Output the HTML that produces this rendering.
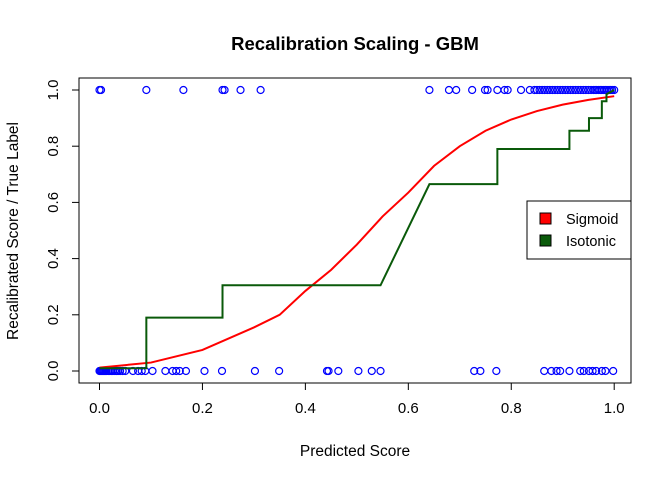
<!DOCTYPE html>
<html><head><meta charset="utf-8"><style>
body{margin:0;background:#fff}
svg{display:block;font-family:"Liberation Sans",Arial,sans-serif}
</style></head><body>
<svg id="chart" width="672" height="480" viewBox="0 0 672 480">
<rect width="672" height="480" fill="#fff"/>
<text x="355" y="50" text-anchor="middle" font-size="18.5" font-weight="bold">Recalibration Scaling - GBM</text>
<rect x="79" y="78" width="552" height="305" fill="none" stroke="#000"/>
<g id="xaxis"></g>
<g id="yaxis"></g>
<text x="355" y="456" text-anchor="middle" font-size="15.5">Predicted Score</text>
<text transform="translate(18,231) rotate(-90)" text-anchor="middle" font-size="15.5">Recalibrated Score / True Label</text>
<g id="points"></g>
<g id="lines"></g>
<g>
<rect x="527" y="201" width="104" height="58" fill="#fff" stroke="#000"/>
<g><rect x="540" y="213" width="11" height="11" fill="#ff0000" stroke="#000"/><text x="566" y="224" font-size="14.5">Sigmoid</text></g>
<g><rect x="540" y="235" width="11" height="11" fill="#0a5a0a" stroke="#000"/><text x="566" y="246" font-size="14.5">Isotonic</text></g>
</g>
</svg>
<script>
const xTicks=[0,0.2,0.4,0.6,0.8,1.0];
const yTicks=[0,0.2,0.4,0.6,0.8,1.0];
const topPts=[0,0.003,0.091,0.163,0.239,0.243,0.274,0.313,0.641,0.679,0.693,0.724,0.749,0.754,0.773,0.787,0.793,0.819,0.836,0.845,0.85,0.855,0.86,0.865,0.87,0.875,0.88,0.885,0.89,0.895,0.9,0.905,0.91,0.915,0.92,0.925,0.93,0.935,0.94,0.945,0.95,0.955,0.96,0.963,0.966,0.97,0.973,0.976,0.98,0.983,0.986,0.99,0.993,0.996,1.0];
const botPts=[0,0.002,0.004,0.006,0.008,0.01,0.012,0.014,0.017,0.02,0.023,0.026,0.03,0.033,0.036,0.04,0.045,0.05,0.065,0.075,0.082,0.089,0.103,0.128,0.142,0.149,0.156,0.168,0.204,0.238,0.302,0.349,0.442,0.445,0.464,0.503,0.529,0.546,0.728,0.74,0.771,0.864,0.878,0.888,0.895,0.913,0.934,0.941,0.951,0.958,0.965,0.976,0.983,0.998];
const sigX=[0,0.1,0.2,0.3,0.35,0.4,0.45,0.5,0.55,0.6,0.65,0.7,0.75,0.8,0.85,0.9,0.95,1.0];
const sigY=[0.012,0.03,0.075,0.155,0.2,0.285,0.36,0.45,0.55,0.635,0.73,0.8,0.855,0.895,0.925,0.948,0.965,0.978];
const isoX=[0,0.091,0.091,0.239,0.239,0.546,0.641,0.773,0.773,0.913,0.913,0.951,0.951,0.976,0.976,0.985,0.985,1.0];
const isoY=[0.01,0.01,0.19,0.19,0.305,0.305,0.665,0.665,0.79,0.79,0.855,0.855,0.9,0.9,0.96,0.96,0.985,1.0];
const NS="http://www.w3.org/2000/svg";
function sx(v){return 99.5+v*514.7;}
function sy(v){return 371-v*281;}
function mk(tag,attrs,parent){const e=document.createElementNS(NS,tag);for(const k in attrs)e.setAttribute(k,attrs[k]);parent.appendChild(e);return e;}
const xa=document.getElementById('xaxis'),ya=document.getElementById('yaxis');
mk('line',{x1:sx(0),x2:sx(1),y1:383,y2:383,stroke:'#000'},xa);
xTicks.forEach(t=>{mk('line',{x1:sx(t),x2:sx(t),y1:383,y2:390,stroke:'#000'},xa);
const tx=mk('text',{x:sx(t),y:413,'text-anchor':'middle','font-size':15},xa);tx.textContent=t.toFixed(1);

});
mk('line',{x1:79,x2:79,y1:sy(0),y2:sy(1),stroke:'#000'},ya);
yTicks.forEach(t=>{mk('line',{x1:72,x2:79,y1:sy(t),y2:sy(t),stroke:'#000'},ya);
const tx=mk('text',{transform:`translate(58,${sy(t)}) rotate(-90)`,'text-anchor':'middle','font-size':15},ya);tx.textContent=t.toFixed(1);

});
const pg=document.getElementById('points');
topPts.forEach(v=>{const c=mk('circle',{cx:sx(v),cy:sy(1),r:3.5,fill:'none',stroke:'#0000ff','stroke-width':1.2},pg);

});
botPts.forEach(v=>{const c=mk('circle',{cx:sx(v),cy:sy(0),r:3.5,fill:'none',stroke:'#0000ff','stroke-width':1.2},pg);

});
const lg=document.getElementById('lines');
const s=mk('polyline',{points:sigX.map((x,i)=>sx(x)+','+sy(sigY[i])).join(' '),fill:'none',stroke:'#ff0000','stroke-width':2},lg);


const iso=mk('polyline',{points:isoX.map((x,i)=>sx(x)+','+sy(isoY[i])).join(' '),fill:'none',stroke:'#0a5a0a','stroke-width':2},lg);


</script>
</body></html>
